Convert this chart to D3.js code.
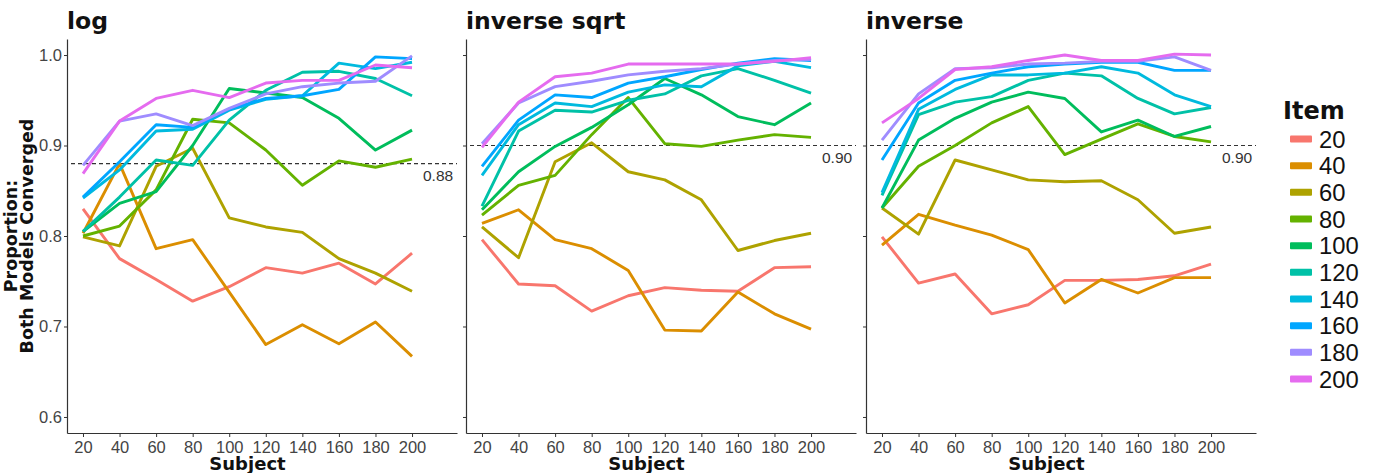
<!DOCTYPE html>
<html>
<head>
<meta charset="utf-8">
<script src="https://cdn.jsdelivr.net/npm/d3@7"></script>
<style>
  html, body { margin: 0; padding: 0; background: #fff; }
  svg { display: block; font-family: "Liberation Sans", Arial, Helvetica, sans-serif; }
  .bold { font-family: "DejaVu Sans", sans-serif; font-weight: bold; }
</style>
</head>
<body>
<svg id="chart" width="1395" height="473"></svg>
<script>
// ---------------- data ----------------
const subjects = [20, 40, 60, 80, 100, 120, 140, 160, 180, 200];
const items = ["20", "40", "60", "80", "100", "120", "140", "160", "180", "200"];
const panelTitles = ["log", "inverse sqrt", "inverse"];
const thresholds = [0.88, 0.90, 0.90];
const thresholdLabels = ["0.88", "0.90", "0.90"];
const yTicks = [0.6, 0.7, 0.8, 0.9, 1.0];
const itemColors = ["#F8766D", "#DB8E00", "#AEA200", "#64B200", "#00BD5C",
                    "#00C1A7", "#00BADE", "#00A6FF", "#9F8CFF", "#E56BEF"];

// one row per Item (20..200), one value per Subject (20..200)
const logValues = [
  [0.830, 0.775, 0.752, 0.728, 0.744, 0.765, 0.759, 0.770, 0.747, 0.781],
  [0.803, 0.880, 0.786, 0.796, 0.738, 0.680, 0.702, 0.681, 0.705, 0.667],
  [0.799, 0.789, 0.877, 0.897, 0.820, 0.810, 0.804, 0.775, 0.759, 0.739],
  [0.800, 0.811, 0.851, 0.929, 0.925, 0.895, 0.856, 0.883, 0.876, 0.885],
  [0.805, 0.836, 0.849, 0.900, 0.963, 0.958, 0.953, 0.930, 0.895, 0.917],
  [0.805, 0.843, 0.884, 0.878, 0.928, 0.961, 0.981, 0.982, 0.974, 0.955],
  [0.842, 0.873, 0.916, 0.918, 0.939, 0.951, 0.955, 0.991, 0.985, 0.992],
  [0.843, 0.882, 0.923, 0.920, 0.940, 0.952, 0.955, 0.962, 0.998, 0.996],
  [0.878, 0.927, 0.935, 0.922, 0.941, 0.957, 0.965, 0.969, 0.971, 0.999],
  [0.869, 0.927, 0.952, 0.961, 0.953, 0.969, 0.972, 0.972, 0.989, 0.986]
];
const invSqrtValues = [
  [0.796, 0.747, 0.745, 0.717, 0.734, 0.743, 0.740, 0.739, 0.765, 0.766],
  [0.814, 0.829, 0.796, 0.786, 0.762, 0.696, 0.695, 0.738, 0.714, 0.697],
  [0.810, 0.776, 0.882, 0.903, 0.871, 0.862, 0.840, 0.784, 0.795, 0.803],
  [0.823, 0.856, 0.867, 0.912, 0.953, 0.902, 0.899, 0.906, 0.912, 0.909],
  [0.829, 0.871, 0.899, 0.920, 0.945, 0.974, 0.956, 0.932, 0.923, 0.947],
  [0.833, 0.916, 0.939, 0.937, 0.950, 0.957, 0.977, 0.985, 0.972, 0.958],
  [0.867, 0.923, 0.947, 0.943, 0.959, 0.967, 0.965, 0.988, 0.993, 0.986],
  [0.877, 0.928, 0.956, 0.953, 0.969, 0.976, 0.984, 0.991, 0.996, 0.994],
  [0.902, 0.947, 0.965, 0.971, 0.978, 0.982, 0.985, 0.990, 0.994, 0.995],
  [0.898, 0.948, 0.976, 0.980, 0.990, 0.990, 0.990, 0.990, 0.993, 0.997]
];
const inverseValues = [
  [0.799, 0.748, 0.758, 0.714, 0.724, 0.751, 0.751, 0.752, 0.756, 0.769],
  [0.790, 0.824, 0.812, 0.801, 0.785, 0.726, 0.752, 0.737, 0.754, 0.754],
  [0.831, 0.802, 0.884, 0.873, 0.862, 0.860, 0.861, 0.840, 0.803, 0.810],
  [0.831, 0.877, 0.900, 0.925, 0.943, 0.890, 0.907, 0.924, 0.910, 0.904],
  [0.831, 0.906, 0.930, 0.948, 0.959, 0.952, 0.915, 0.928, 0.910, 0.921],
  [0.845, 0.934, 0.948, 0.954, 0.972, 0.980, 0.977, 0.952, 0.935, 0.942],
  [0.848, 0.940, 0.962, 0.978, 0.978, 0.980, 0.987, 0.980, 0.956, 0.943],
  [0.884, 0.947, 0.972, 0.980, 0.987, 0.990, 0.992, 0.992, 0.983, 0.983],
  [0.906, 0.957, 0.985, 0.986, 0.990, 0.991, 0.993, 0.993, 0.998, 0.983],
  [0.925, 0.952, 0.984, 0.987, 0.994, 1.000, 0.994, 0.994, 1.001, 1.000]
];
const panelValues = [logValues, invSqrtValues, inverseValues];

// ---------------- layout ----------------
const svg = d3.select("#chart");
const panelLeft = [67, 466, 866];
const panelWidth = 390;
const plotTop = 39, plotBottom = 433;

const y = d3.scaleLinear().domain([0.5823, 1.0177]).range([plotBottom, plotTop]);
const color = d3.scaleOrdinal().domain(items).range(itemColors);

panelTitles.forEach((title, p) => {
  const x = d3.scaleLinear().domain([11.25, 224.6]).range([panelLeft[p], panelLeft[p] + panelWidth]);
  const g = svg.append("g");

  // threshold dashed line
  g.append("line")
    .attr("x1", x.range()[0] + 4).attr("x2", x.range()[1])
    .attr("y1", y(thresholds[p])).attr("y2", y(thresholds[p]))
    .attr("stroke", "#333").attr("stroke-width", 1.2)
    .attr("stroke-dasharray", "4,3");
  g.append("text")
    .attr("x", x(206)).attr("y", y(thresholds[p]) + 17)
    .attr("font-size", 15.5).attr("fill", "#333")
    .text(thresholdLabels[p]);

  // series lines
  const line = d3.line().x((d, i) => x(subjects[i])).y(d => y(d));
  g.selectAll("path.series")
    .data(panelValues[p])
    .join("path")
    .attr("class", "series")
    .attr("fill", "none")
    .attr("stroke", (d, i) => color(items[i]))
    .attr("stroke-width", 2.9)
    .attr("stroke-linejoin", "round")
    .attr("d", line);

  // axes
  const yAxis = d3.axisLeft(y).tickValues(yTicks).tickSize(3).tickSizeOuter(0).tickPadding(2)
    .tickFormat(p === 0 ? d3.format(".1f") : () => "");
  const ya = g.append("g").attr("transform", `translate(${panelLeft[p]},0)`).call(yAxis);
  const xAxis = d3.axisBottom(x).tickValues(subjects).tickSize(4).tickSizeOuter(0).tickPadding(4);
  const xa = g.append("g").attr("transform", `translate(0,${plotBottom})`).call(xAxis);
  [ya, xa].forEach(a => {
    a.select(".domain").attr("stroke", "#333").attr("stroke-width", 1.2);
    a.selectAll(".tick line").attr("stroke", "#333");
    a.selectAll(".tick text").attr("fill", "#444").attr("font-size", 16.5)
      .attr("font-family", "Liberation Sans, Arial, sans-serif");
  });

  // titles
  g.append("text").attr("class", "bold")
    .attr("x", panelLeft[p]).attr("y", 29)
    .attr("font-size", 23.5).attr("fill", "#111")
    .text(title);
  g.append("text").attr("class", "bold")
    .attr("x", (x(20) + x(200)) / 2).attr("y", 470)
    .attr("text-anchor", "middle")
    .attr("font-size", 18).attr("fill", "#111")
    .text("Subject");
});

// y axis title (two lines)
const yt = svg.append("text").attr("class", "bold")
  .attr("transform", `translate(0,${(plotTop + plotBottom) / 2}) rotate(-90)`)
  .attr("text-anchor", "middle")
  .attr("font-size", 17.5).attr("fill", "#111");
yt.append("tspan").attr("x", 0).attr("y", 16.8).text("Proportion:");
yt.append("tspan").attr("x", 0).attr("y", 32.5).text("Both Models Converged");

// legend
const legend = svg.append("g");
legend.append("text").attr("class", "bold")
  .attr("x", 1283).attr("y", 119)
  .attr("font-size", 24).attr("fill", "#111")
  .text("Item");
const legendY = d3.scalePoint().domain(items).range([139, 379]);
items.forEach((it) => {
  const cy = legendY(it);
  legend.append("rect")
    .attr("x", 1290).attr("y", cy - 3.5).attr("width", 22).attr("height", 7)
    .attr("rx", 1).attr("fill", color(it));
  legend.append("text")
    .attr("x", 1319).attr("y", cy)
    .attr("dy", "0.36em")
    .attr("font-size", 23.8).attr("fill", "#111")
    .text(it);
});
</script>
</body>
</html>
